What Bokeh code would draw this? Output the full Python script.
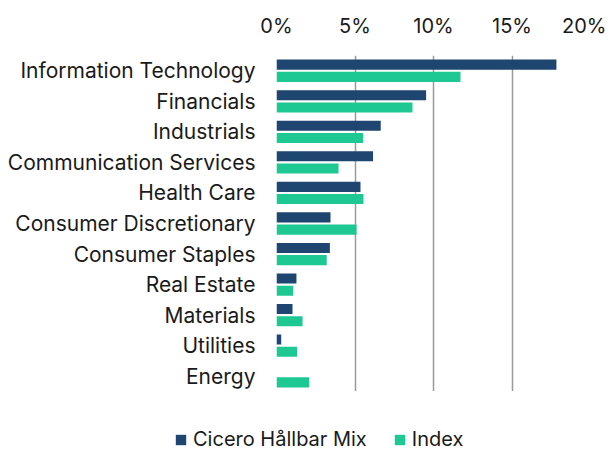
from bokeh.plotting import figure
from bokeh.models import ColumnDataSource, FactorRange, Range1d, FixedTicker, Legend, LegendItem
from bokeh.layouts import column
from bokeh.transform import dodge
from bokeh.embed import file_html
from bokeh.resources import INLINE

categories = ["Information Technology", "Financials", "Industrials", "Communication Services",
              "Health Care", "Consumer Discretionary", "Consumer Staples", "Real Estate",
              "Materials", "Utilities", "Energy"]
cicero = [17.83, 9.53, 6.64, 6.15, 5.35, 3.44, 3.40, 1.27, 1.02, 0.30, 0.0]
index = [11.72, 8.66, 5.52, 3.95, 5.54, 5.10, 3.20, 1.06, 1.66, 1.31, 2.08]
series_names = ["Cicero Hållbar Mix", "Index"]
x_ticks = [0, 5, 10, 15, 20]
x_tick_labels = {0: "0%", 5: "5%", 10: "10%", 15: "15%", 20: "20%"}

FONT = "Inter"
DARK = "#1F4670"
GREEN = "#1EC893"
TXT = "#1a1a1a"

src = ColumnDataSource(dict(cat=categories, a=cicero, b=index))

p = figure(y_range=FactorRange(*categories[::-1], range_padding=0),
           x_range=Range1d(0, 20),
           width=606, height=391,
           frame_width=314, frame_height=336,
           min_border_left=276, min_border_right=16, min_border_top=55, min_border_bottom=0,
           output_backend="svg", toolbar_location=None,
           x_axis_location="above")

r1 = p.hbar(y=dodge("cat", 0.2, range=p.y_range), right="a", height=0.33, source=src,
            fill_color=DARK, line_color=None)
r2 = p.hbar(y=dodge("cat", -0.2, range=p.y_range), right="b", height=0.33, source=src,
            fill_color=GREEN, line_color=None)

p.outline_line_color = None
p.ygrid.grid_line_color = None
p.xgrid.ticker = FixedTicker(ticks=x_ticks)
p.xgrid.grid_line_color = "#9a9a9a"
p.xgrid.grid_line_width = 1.5

xa = p.xaxis[0]
xa.ticker = FixedTicker(ticks=x_ticks)
xa.major_label_overrides = x_tick_labels
xa.axis_line_color = None
xa.major_tick_line_color = None
xa.minor_tick_line_color = None
xa.major_tick_out = 0
xa.major_label_standoff = 18
xa.major_label_text_font = FONT
xa.major_label_text_font_size = "20px"
xa.major_label_text_color = TXT

ya = p.yaxis[0]
ya.axis_line_color = None
ya.major_tick_line_color = None
ya.major_tick_out = 0
ya.major_label_standoff = 21
ya.major_label_text_font = FONT
ya.major_label_text_font_size = "21px"
ya.major_label_text_color = TXT

# legend strip below the chart
p2 = figure(width=606, height=60, x_range=Range1d(0, 1), y_range=Range1d(0, 1),
            x_axis_type=None, y_axis_type=None, min_border=0,
            output_backend="svg", toolbar_location=None)
p2.outline_line_color = None
p2.grid.visible = False
lsrc = ColumnDataSource(dict(y=[-5], right=[0]))
l1 = p2.hbar(y="y", right="right", height=0.1, source=lsrc, fill_color=DARK, line_color=None)
l2 = p2.hbar(y="y", right="right", height=0.1, source=lsrc, fill_color=GREEN, line_color=None)

legend = Legend(items=[LegendItem(label=series_names[0], renderers=[l1]),
                       LegendItem(label=series_names[1], renderers=[l2])],
                orientation="horizontal", location=(174, 0),
                padding=0, margin=0, spacing=26, label_standoff=6,
                glyph_width=13, glyph_height=13, label_height=12,
                border_line_color=None, background_fill_alpha=0,
                label_text_font=FONT, label_text_font_size="20px", label_text_color=TXT)
p2.add_layout(legend, "center")

layout = column(p, column(p2, spacing=0), spacing=0)
open("out.html", "w").write(file_html(layout, INLINE))
